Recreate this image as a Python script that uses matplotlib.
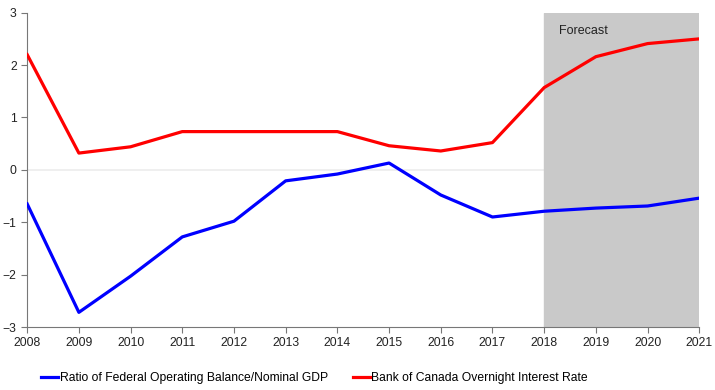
import matplotlib
matplotlib.use("Agg")
import matplotlib.pyplot as plt

plt.rcParams['font.family'] = ['Liberation Sans', 'DejaVu Sans']

years = list(range(2008, 2022))
balance_ratio = [-0.65, -2.72, -2.03, -1.28, -0.98, -0.21, -0.08, 0.13,
                 -0.48, -0.90, -0.79, -0.73, -0.69, -0.54]
overnight_rate = [2.20, 0.32, 0.44, 0.73, 0.73, 0.73, 0.73, 0.46,
                  0.36, 0.52, 1.57, 2.16, 2.41, 2.50]
forecast_start, forecast_end = 2018, 2021

fig = plt.figure(figsize=(7.15, 3.9), dpi=100)
ax = fig.add_axes([0.038, 0.1615, 0.94, 0.806])

# faint zero line sits under the forecast shading
ax.axhline(0, color='#ececec', lw=1.2, zorder=0)
ax.axvspan(forecast_start, forecast_end, color='#c9c9c9', zorder=1)
ax.text(forecast_start + 0.28, 2.6, 'Forecast', fontsize=9, color='#222222')

ax.plot(years, balance_ratio, color='#0000ff', lw=2.3,
        label='Ratio of Federal Operating Balance/Nominal GDP', zorder=3)
ax.plot(years, overnight_rate, color='#ff0000', lw=2.3,
        label='Bank of Canada Overnight Interest Rate', zorder=3)

ax.set_xlim(2008, 2021)
ax.set_ylim(-3, 3)
ax.set_xticks(years)
ax.set_yticks(range(-3, 4))
for s in ['top', 'right']:
    ax.spines[s].set_visible(False)
for s in ['left', 'bottom']:
    ax.spines[s].set_color('#777777')
ax.tick_params(colors='#777777', labelcolor='#222222', labelsize=8.7,
               length=4, direction='out')

fig.legend(loc='center', bbox_to_anchor=(0.44, 0.03), ncol=2, frameon=False,
           fontsize=8.7, handlelength=1.4, handletextpad=0.1, columnspacing=2.1)

fig.savefig('out.png', dpi=100)
